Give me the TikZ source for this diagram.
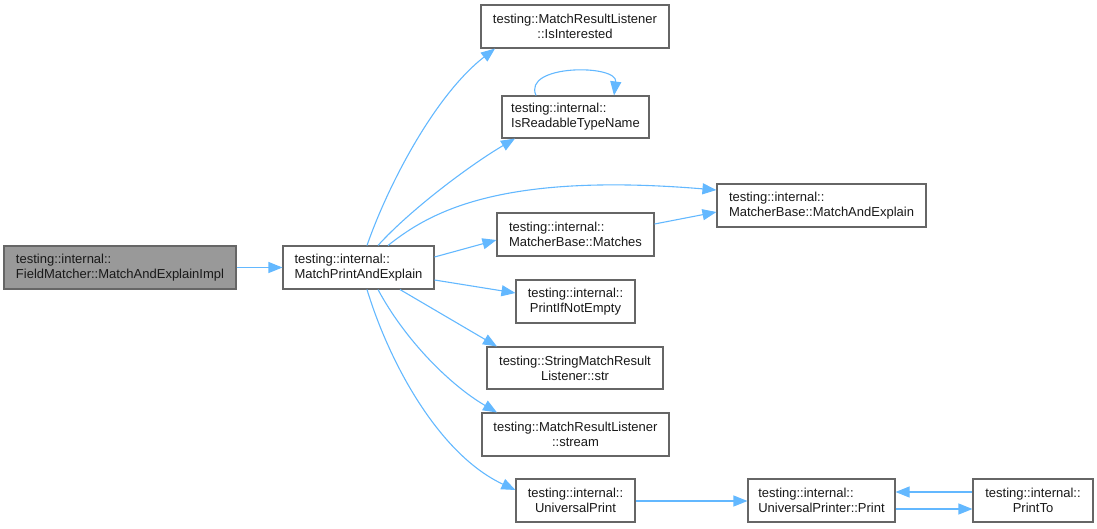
\documentclass[tikz,border=0pt]{standalone}
\usepackage{fontspec}
\setmainfont{Liberation Sans}
\usetikzlibrary{arrows.meta}
\definecolor{edgeblue}{HTML}{63B8FF}
\definecolor{boxborder}{HTML}{666666}
\definecolor{grayfill}{HTML}{999999}
\tikzset{
  fn/.style={draw=boxborder, line width=1.1pt, fill=white, inner sep=0pt,
    font=\fontsize{13}{15}\selectfont, text=black!90},
  fnl/.style={fn, align=left},
  fnc/.style={fn, align=center},
  call/.style={draw=edgeblue, line width=1.1pt, -{Triangle[length=14pt,width=11pt]}},
}
\begin{document}
\begin{tikzpicture}[x=1pt,y=-1pt]
\useasboundingbox (0,0) rectangle (1097,528);
\node[fnl, fill=grayfill, minimum width=232pt, minimum height=43pt] (n1) at (120,267.5) {testing::internal::\\FieldMatcher::MatchAndExplainImpl};
\node[fnl, minimum width=151pt, minimum height=43pt] (n2) at (358.5,267.5) {testing::internal::\\MatchPrintAndExplain};
\node[fnc, minimum width=188pt, minimum height=43pt] (n3) at (575,26.5) {testing::MatchResultListener\\::IsInterested};
\node[fnl, minimum width=147pt, minimum height=42pt] (n4) at (575.5,117) {testing::internal::\\IsReadableTypeName};
\node[fnl, minimum width=209pt, minimum height=43pt] (n5) at (821.5,205.5) {testing::internal::\\MatcherBase::MatchAndExplain};
\node[fnl, minimum width=157pt, minimum height=43pt] (n6) at (575.5,234.5) {testing::internal::\\MatcherBase::Matches};
\node[fnc, minimum width=119pt, minimum height=43pt] (n7) at (575.5,301.5) {testing::internal::\\PrintIfNotEmpty};
\node[fnc, minimum width=176pt, minimum height=42pt] (n8) at (575,368) {testing::StringMatchResult\\Listener::str};
\node[fnc, minimum width=187pt, minimum height=43pt] (n9) at (575.5,434.5) {testing::MatchResultListener\\::stream};
\node[fnc, minimum width=119pt, minimum height=43pt] (n10) at (575.5,500.5) {testing::internal::\\UniversalPrint};
\node[fnl, minimum width=147pt, minimum height=43pt] (n11) at (821.5,500.5) {testing::internal::\\UniversalPrinter::Print};
\node[fnc, minimum width=120pt, minimum height=43pt] (n12) at (1033,500.5) {testing::internal::\\PrintTo};

\draw[call] (n1.east) -- (n2.west);
\draw[call] (n2.north -| 367,0) .. controls (388,185) and (435,95) .. (n3.south -| 495,0);
\draw[call] (n2.north -| 378,0) .. controls (410,210) and (470,165) .. (n4.south -| 515,0);
\draw[call] (n2.north -| 388,0) .. controls (430,212) and (500,172) .. (n5.west |- 0,190);
\draw[call] (n2.east |- 0,257) -- (n6.west |- 0,240);
\draw[call] (n6.east |- 0,224) -- (n5.west |- 0,212);
\draw[call] (n2.east |- 0,280) -- (n7.west |- 0,293);
\draw[call] (n2.south -| 400,0) -- (n8.north -| 497,0);
\draw[call] (n2.south -| 378,0) .. controls (405,340) and (450,385) .. (n9.north -| 497,0);
\draw[call] (n2.south -| 367,0) .. controls (390,365) and (440,455) .. (n10.west |- 0,490);
\draw[call] (n10.east |- 0,501) -- (n11.west |- 0,501);
\draw[call] (n11.east |- 0,509) -- (n12.west |- 0,509);
\draw[call] (n12.west |- 0,492) -- (n11.east |- 0,492);
\draw[call] (n4.north -| 536,0) .. controls (522,64) and (618,64) .. (n4.north -| 614,0);
\end{tikzpicture}
\end{document}
